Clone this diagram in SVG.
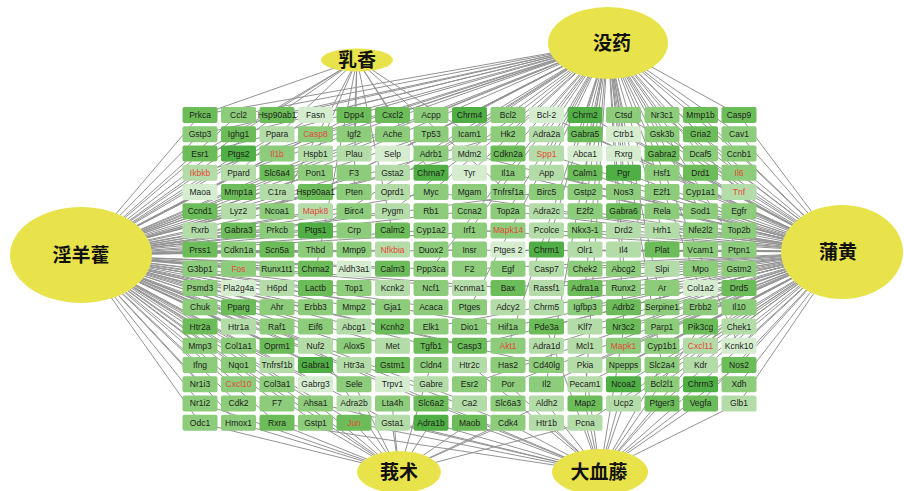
<svg xmlns="http://www.w3.org/2000/svg" width="904" height="491" viewBox="0 0 904 491">
<style>
.bg{fill:#ffffff}
.edge{fill:none;stroke:#939393;stroke-width:1}
.herb ellipse{fill:#e8e34a}
.herb text{font-family:"Noto Sans CJK SC","Noto Sans CJK TC",sans-serif;font-size:19px;font-weight:700;fill:#111;text-anchor:middle}
.n text{font-family:"Liberation Sans",Arial,sans-serif;font-size:8.5px;fill:#1e1e1e;text-anchor:middle}
.n.r text{fill:#e24a38}
.d rect{fill:#4fae44}
.m rect{fill:#6cbd59}
.l rect{fill:#8ccc7b}
.p rect{fill:#b4dca8}
.v rect{fill:#d5edce}
</style>
<rect class="bg" x="0" y="0" width="904" height="491"/>
<g id="edges">
<path id="e-yinyanghuo" class="edge" d="M81 255L200 115M81 255L200 134M81 255L200 154M81 255L200 173M81 255L200 192M81 255L200 211M81 255L200 230M81 255L200 250M81 255L200 269M81 255L200 288M81 255L200 307M81 255L200 327M81 255L200 346M81 255L200 365M81 255L200 384M81 255L200 403M81 255L200 423M81 255L238 115M81 255L238 154M81 255L238 173M81 255L238 211M81 255L238 230M81 255L238 269M81 255L238 288M81 255L238 327M81 255L238 365M81 255L238 403M81 255L238 423M81 255L277 134M81 255L277 192M81 255L277 230M81 255L277 250M81 255L277 307M81 255L277 346M81 255L277 384M81 255L277 423M81 255L316 115M81 255L316 154M81 255L316 211M81 255L316 250M81 255L316 269M81 255L316 327M81 255L316 365M81 255L316 403M81 255L354 173M81 255L354 230M81 255L354 288M81 255L354 346M81 255L354 423M81 255L392 134M81 255L392 250M81 255L392 307M81 255L392 384M81 255L431 192M81 255L431 269M81 255L431 346M81 255L470 154M81 255L470 288M81 255L470 403M81 255L508 230M81 255L508 327M81 255L238 134M81 255L238 192M81 255L238 250M81 255L238 307M81 255L238 346M81 255L238 384M81 255L277 115M81 255L277 154M81 255L277 173M81 255L277 211M81 255L277 269M81 255L277 288M81 255L277 327M81 255L277 365M81 255L277 403M81 255L316 134M81 255L316 173M81 255L316 192M81 255L316 230M81 255L316 288M81 255L316 307M81 255L316 346M81 255L316 384M81 255L316 423M81 255L354 115M81 255L354 154M81 255L354 211M81 255L354 250M81 255L354 307M81 255L354 384M81 255L392 173M81 255L392 211M81 255L392 269M81 255L392 346M81 255L392 423M81 255L431 134M81 255L431 230M81 255L431 307M81 255L431 403M81 255L470 211M81 255L470 250M81 255L470 346M81 255L508 134M81 255L508 288M81 255L508 423M81 255L546 192M81 255L546 365"/>
<path id="e-puhuang" class="edge" d="M842 252L739 115M842 252L739 134M842 252L739 154M842 252L739 173M842 252L739 192M842 252L739 211M842 252L739 230M842 252L739 250M842 252L739 269M842 252L739 288M842 252L739 307M842 252L739 327M842 252L739 346M842 252L739 365M842 252L739 384M842 252L739 403M842 252L700 115M842 252L700 134M842 252L700 173M842 252L700 192M842 252L700 230M842 252L700 250M842 252L700 288M842 252L700 307M842 252L700 346M842 252L700 384M842 252L700 403M842 252L662 115M842 252L662 154M842 252L662 211M842 252L662 250M842 252L662 269M842 252L662 327M842 252L662 365M842 252L662 403M842 252L624 134M842 252L624 173M842 252L624 230M842 252L624 288M842 252L624 346M842 252L624 384M842 252L585 115M842 252L585 192M842 252L585 250M842 252L585 307M842 252L585 365M842 252L585 423M842 252L546 154M842 252L546 211M842 252L546 269M842 252L546 327M842 252L508 173M842 252L508 288M842 252L508 384M842 252L470 230M842 252L470 346M842 252L431 250M842 252L700 154M842 252L700 211M842 252L700 269M842 252L700 327M842 252L700 365M842 252L662 134M842 252L662 173M842 252L662 192M842 252L662 230M842 252L662 288M842 252L662 307M842 252L662 346M842 252L662 384M842 252L624 115M842 252L624 154M842 252L624 192M842 252L624 211M842 252L624 250M842 252L624 269M842 252L624 307M842 252L624 327M842 252L624 365M842 252L624 403M842 252L585 134M842 252L585 173M842 252L585 211M842 252L585 230M842 252L585 269M842 252L585 288M842 252L585 327M842 252L585 384M842 252L546 115M842 252L546 173M842 252L546 230M842 252L546 288M842 252L546 346M842 252L546 384M842 252L508 211M842 252L508 250M842 252L508 327M842 252L470 154M842 252L470 269M842 252L470 384M842 252L431 192M842 252L431 327"/>
<path id="e-moyao" class="edge" d="M608 43L200 134M608 43L200 173M608 43L238 115M608 43L238 192M608 43L277 154M608 43L316 134M608 43L316 230M608 43L354 115M608 43L354 173M608 43L392 154M608 43L392 211M608 43L431 115M608 43L431 134M608 43L431 192M608 43L431 269M608 43L470 115M608 43L470 173M608 43L470 230M608 43L470 307M608 43L508 134M608 43L508 154M608 43L508 211M608 43L508 346M608 43L546 115M608 43L546 173M608 43L546 250M608 43L546 384M608 43L585 115M608 43L585 134M608 43L585 154M608 43L585 211M608 43L585 288M608 43L585 403M608 43L624 115M608 43L624 173M608 43L624 192M608 43L624 269M608 43L624 327M608 43L662 134M608 43L662 154M608 43L662 230M608 43L662 307M608 43L662 365M608 43L700 115M608 43L700 154M608 43L700 211M608 43L700 288M608 43L739 134M608 43L739 173M608 43L739 192M608 43L739 250M608 43L739 346M608 43L200 115M608 43L200 154M608 43L238 134M608 43L238 173M608 43L277 115M608 43L277 173M608 43L316 115M608 43L316 192M608 43L354 154M608 43L392 115M608 43L392 173M608 43L431 154M608 43L470 134M608 43L508 115M608 43L546 134M608 43L546 154M608 43L585 173M608 43L624 134M608 43L624 154M608 43L662 115M608 43L700 134M608 43L700 173M608 43L739 115M608 43L739 154"/>
<path id="e-ruxiang" class="edge" d="M357 60L200 115M357 60L200 154M357 60L238 134M357 60L238 173M357 60L277 115M357 60L277 211M357 60L316 154M357 60L316 269M357 60L354 134M357 60L354 192M357 60L392 115M357 60L392 230M357 60L431 173M357 60L470 134M357 60L508 192"/>
<path id="e-ezhu" class="edge" d="M399 472L200 403M399 472L200 423M399 472L238 365M399 472L238 423M399 472L277 384M399 472L277 423M399 472L316 346M399 472L316 403M399 472L316 423M399 472L354 384M399 472L354 423M399 472L392 403M399 472L392 423M399 472L431 365M399 472L431 423M399 472L470 423M399 472L508 423M399 472L546 403M399 472L585 423"/>
<path id="e-daxueteng" class="edge" d="M600 472L277 423M600 472L316 403M600 472L354 423M600 472L392 384M600 472L392 423M600 472L431 403M600 472L431 423M600 472L470 365M600 472L470 423M600 472L508 384M600 472L508 423M600 472L546 327M600 472L546 403M600 472L546 423M600 472L585 365M600 472L585 403M600 472L585 423M600 472L624 327M600 472L624 384M600 472L624 403M600 472L662 365M600 472L662 403M600 472L700 327M600 472L700 384M600 472L700 403M600 472L739 307M600 472L739 365M600 472L739 403"/>
</g>
<g id="h-ruxiang" class="herb"><ellipse cx="357" cy="60" rx="36" ry="11.5"/><text x="357" y="67">乳香</text></g>
<g id="h-moyao" class="herb"><ellipse cx="608" cy="43" rx="60" ry="36"/><text x="612" y="50">没药</text></g>
<g id="h-yinyanghuo" class="herb"><ellipse cx="81" cy="255" rx="71" ry="48"/><text x="81" y="262">淫羊藿</text></g>
<g id="h-puhuang" class="herb"><ellipse cx="842" cy="252" rx="61" ry="47"/><text x="838" y="259">蒲黄</text></g>
<g id="h-ezhu" class="herb"><ellipse cx="399" cy="472" rx="42" ry="21"/><text x="399" y="479">莪术</text></g>
<g id="h-daxueteng" class="herb"><ellipse cx="600" cy="472" rx="48" ry="23"/><text x="599" y="479">大血藤</text></g>
<g id="nodes">
<g id="n-Prkca" class="n m" transform="translate(200 115)"><rect x="-17.5" y="-8" width="35" height="16" rx="2"/><text y="3">Prkca</text></g>
<g id="n-Ccl2" class="n l" transform="translate(238.5 115)"><rect x="-17.5" y="-8" width="35" height="16" rx="2"/><text y="3">Ccl2</text></g>
<g id="n-Hsp90ab1" class="n m" transform="translate(277 115)"><rect x="-17.5" y="-8" width="35" height="16" rx="2"/><text y="3">Hsp90ab1</text></g>
<g id="n-Fasn" class="n v" transform="translate(315.5 115)"><rect x="-17.5" y="-8" width="35" height="16" rx="2"/><text y="3">Fasn</text></g>
<g id="n-Dpp4" class="n m" transform="translate(354 115)"><rect x="-17.5" y="-8" width="35" height="16" rx="2"/><text y="3">Dpp4</text></g>
<g id="n-Cxcl2" class="n m" transform="translate(392.5 115)"><rect x="-17.5" y="-8" width="35" height="16" rx="2"/><text y="3">Cxcl2</text></g>
<g id="n-Acpp" class="n l" transform="translate(431 115)"><rect x="-17.5" y="-8" width="35" height="16" rx="2"/><text y="3">Acpp</text></g>
<g id="n-Chrm4" class="n d" transform="translate(469.5 115)"><rect x="-17.5" y="-8" width="35" height="16" rx="2"/><text y="3">Chrm4</text></g>
<g id="n-Bcl2" class="n l" transform="translate(508 115)"><rect x="-17.5" y="-8" width="35" height="16" rx="2"/><text y="3">Bcl2</text></g>
<g id="n-Bcl-2" class="n v" transform="translate(546.5 115)"><rect x="-17.5" y="-8" width="35" height="16" rx="2"/><text y="3">Bcl-2</text></g>
<g id="n-Chrm2" class="n d" transform="translate(585 115)"><rect x="-17.5" y="-8" width="35" height="16" rx="2"/><text y="3">Chrm2</text></g>
<g id="n-Ctsd" class="n l" transform="translate(623.5 115)"><rect x="-17.5" y="-8" width="35" height="16" rx="2"/><text y="3">Ctsd</text></g>
<g id="n-Nr3c1" class="n l" transform="translate(662 115)"><rect x="-17.5" y="-8" width="35" height="16" rx="2"/><text y="3">Nr3c1</text></g>
<g id="n-Mmp1b" class="n m" transform="translate(700.5 115)"><rect x="-17.5" y="-8" width="35" height="16" rx="2"/><text y="3">Mmp1b</text></g>
<g id="n-Casp9" class="n m" transform="translate(739 115)"><rect x="-17.5" y="-8" width="35" height="16" rx="2"/><text y="3">Casp9</text></g>
<g id="n-Gstp3" class="n l" transform="translate(200 134.2)"><rect x="-17.5" y="-8" width="35" height="16" rx="2"/><text y="3">Gstp3</text></g>
<g id="n-Ighg1" class="n m" transform="translate(238.5 134.2)"><rect x="-17.5" y="-8" width="35" height="16" rx="2"/><text y="3">Ighg1</text></g>
<g id="n-Ppara" class="n p" transform="translate(277 134.2)"><rect x="-17.5" y="-8" width="35" height="16" rx="2"/><text y="3">Ppara</text></g>
<g id="n-Casp8" class="n l r" transform="translate(315.5 134.2)"><rect x="-17.5" y="-8" width="35" height="16" rx="2"/><text y="3">Casp8</text></g>
<g id="n-Igf2" class="n l" transform="translate(354 134.2)"><rect x="-17.5" y="-8" width="35" height="16" rx="2"/><text y="3">Igf2</text></g>
<g id="n-Ache" class="n l" transform="translate(392.5 134.2)"><rect x="-17.5" y="-8" width="35" height="16" rx="2"/><text y="3">Ache</text></g>
<g id="n-Tp53" class="n l" transform="translate(431 134.2)"><rect x="-17.5" y="-8" width="35" height="16" rx="2"/><text y="3">Tp53</text></g>
<g id="n-Icam1" class="n l" transform="translate(469.5 134.2)"><rect x="-17.5" y="-8" width="35" height="16" rx="2"/><text y="3">Icam1</text></g>
<g id="n-Hk2" class="n l" transform="translate(508 134.2)"><rect x="-17.5" y="-8" width="35" height="16" rx="2"/><text y="3">Hk2</text></g>
<g id="n-Adra2a" class="n p" transform="translate(546.5 134.2)"><rect x="-17.5" y="-8" width="35" height="16" rx="2"/><text y="3">Adra2a</text></g>
<g id="n-Gabra5" class="n m" transform="translate(585 134.2)"><rect x="-17.5" y="-8" width="35" height="16" rx="2"/><text y="3">Gabra5</text></g>
<g id="n-Ctrb1" class="n v" transform="translate(623.5 134.2)"><rect x="-17.5" y="-8" width="35" height="16" rx="2"/><text y="3">Ctrb1</text></g>
<g id="n-Gsk3b" class="n l" transform="translate(662 134.2)"><rect x="-17.5" y="-8" width="35" height="16" rx="2"/><text y="3">Gsk3b</text></g>
<g id="n-Gria2" class="n m" transform="translate(700.5 134.2)"><rect x="-17.5" y="-8" width="35" height="16" rx="2"/><text y="3">Gria2</text></g>
<g id="n-Cav1" class="n l" transform="translate(739 134.2)"><rect x="-17.5" y="-8" width="35" height="16" rx="2"/><text y="3">Cav1</text></g>
<g id="n-Esr1" class="n m" transform="translate(200 153.5)"><rect x="-17.5" y="-8" width="35" height="16" rx="2"/><text y="3">Esr1</text></g>
<g id="n-Ptgs2" class="n d" transform="translate(238.5 153.5)"><rect x="-17.5" y="-8" width="35" height="16" rx="2"/><text y="3">Ptgs2</text></g>
<g id="n-Il1b" class="n l r" transform="translate(277 153.5)"><rect x="-17.5" y="-8" width="35" height="16" rx="2"/><text y="3">Il1b</text></g>
<g id="n-Hspb1" class="n p" transform="translate(315.5 153.5)"><rect x="-17.5" y="-8" width="35" height="16" rx="2"/><text y="3">Hspb1</text></g>
<g id="n-Plau" class="n p" transform="translate(354 153.5)"><rect x="-17.5" y="-8" width="35" height="16" rx="2"/><text y="3">Plau</text></g>
<g id="n-Selp" class="n v" transform="translate(392.5 153.5)"><rect x="-17.5" y="-8" width="35" height="16" rx="2"/><text y="3">Selp</text></g>
<g id="n-Adrb1" class="n l" transform="translate(431 153.5)"><rect x="-17.5" y="-8" width="35" height="16" rx="2"/><text y="3">Adrb1</text></g>
<g id="n-Mdm2" class="n p" transform="translate(469.5 153.5)"><rect x="-17.5" y="-8" width="35" height="16" rx="2"/><text y="3">Mdm2</text></g>
<g id="n-Cdkn2a" class="n m" transform="translate(508 153.5)"><rect x="-17.5" y="-8" width="35" height="16" rx="2"/><text y="3">Cdkn2a</text></g>
<g id="n-Spp1" class="n p r" transform="translate(546.5 153.5)"><rect x="-17.5" y="-8" width="35" height="16" rx="2"/><text y="3">Spp1</text></g>
<g id="n-Abca1" class="n v" transform="translate(585 153.5)"><rect x="-17.5" y="-8" width="35" height="16" rx="2"/><text y="3">Abca1</text></g>
<g id="n-Rxrg" class="n v" transform="translate(623.5 153.5)"><rect x="-17.5" y="-8" width="35" height="16" rx="2"/><text y="3">Rxrg</text></g>
<g id="n-Gabra2" class="n m" transform="translate(662 153.5)"><rect x="-17.5" y="-8" width="35" height="16" rx="2"/><text y="3">Gabra2</text></g>
<g id="n-Dcaf5" class="n l" transform="translate(700.5 153.5)"><rect x="-17.5" y="-8" width="35" height="16" rx="2"/><text y="3">Dcaf5</text></g>
<g id="n-Ccnb1" class="n l" transform="translate(739 153.5)"><rect x="-17.5" y="-8" width="35" height="16" rx="2"/><text y="3">Ccnb1</text></g>
<g id="n-Ikbkb" class="n p r" transform="translate(200 172.7)"><rect x="-17.5" y="-8" width="35" height="16" rx="2"/><text y="3">Ikbkb</text></g>
<g id="n-Ppard" class="n p" transform="translate(238.5 172.7)"><rect x="-17.5" y="-8" width="35" height="16" rx="2"/><text y="3">Ppard</text></g>
<g id="n-Slc6a4" class="n m" transform="translate(277 172.7)"><rect x="-17.5" y="-8" width="35" height="16" rx="2"/><text y="3">Slc6a4</text></g>
<g id="n-Pon1" class="n l" transform="translate(315.5 172.7)"><rect x="-17.5" y="-8" width="35" height="16" rx="2"/><text y="3">Pon1</text></g>
<g id="n-F3" class="n l" transform="translate(354 172.7)"><rect x="-17.5" y="-8" width="35" height="16" rx="2"/><text y="3">F3</text></g>
<g id="n-Gsta2" class="n p" transform="translate(392.5 172.7)"><rect x="-17.5" y="-8" width="35" height="16" rx="2"/><text y="3">Gsta2</text></g>
<g id="n-Chrna7" class="n d" transform="translate(431 172.7)"><rect x="-17.5" y="-8" width="35" height="16" rx="2"/><text y="3">Chrna7</text></g>
<g id="n-Tyr" class="n v" transform="translate(469.5 172.7)"><rect x="-17.5" y="-8" width="35" height="16" rx="2"/><text y="3">Tyr</text></g>
<g id="n-Il1a" class="n l" transform="translate(508 172.7)"><rect x="-17.5" y="-8" width="35" height="16" rx="2"/><text y="3">Il1a</text></g>
<g id="n-App" class="n p" transform="translate(546.5 172.7)"><rect x="-17.5" y="-8" width="35" height="16" rx="2"/><text y="3">App</text></g>
<g id="n-Calm1" class="n m" transform="translate(585 172.7)"><rect x="-17.5" y="-8" width="35" height="16" rx="2"/><text y="3">Calm1</text></g>
<g id="n-Pgr" class="n d" transform="translate(623.5 172.7)"><rect x="-17.5" y="-8" width="35" height="16" rx="2"/><text y="3">Pgr</text></g>
<g id="n-Hsf1" class="n l" transform="translate(662 172.7)"><rect x="-17.5" y="-8" width="35" height="16" rx="2"/><text y="3">Hsf1</text></g>
<g id="n-Drd1" class="n m" transform="translate(700.5 172.7)"><rect x="-17.5" y="-8" width="35" height="16" rx="2"/><text y="3">Drd1</text></g>
<g id="n-Il6" class="n l r" transform="translate(739 172.7)"><rect x="-17.5" y="-8" width="35" height="16" rx="2"/><text y="3">Il6</text></g>
<g id="n-Maoa" class="n v" transform="translate(200 191.9)"><rect x="-17.5" y="-8" width="35" height="16" rx="2"/><text y="3">Maoa</text></g>
<g id="n-Mmp1a" class="n m" transform="translate(238.5 191.9)"><rect x="-17.5" y="-8" width="35" height="16" rx="2"/><text y="3">Mmp1a</text></g>
<g id="n-C1ra" class="n p" transform="translate(277 191.9)"><rect x="-17.5" y="-8" width="35" height="16" rx="2"/><text y="3">C1ra</text></g>
<g id="n-Hsp90aa1" class="n m" transform="translate(315.5 191.9)"><rect x="-17.5" y="-8" width="35" height="16" rx="2"/><text y="3">Hsp90aa1</text></g>
<g id="n-Pten" class="n l" transform="translate(354 191.9)"><rect x="-17.5" y="-8" width="35" height="16" rx="2"/><text y="3">Pten</text></g>
<g id="n-Oprd1" class="n p" transform="translate(392.5 191.9)"><rect x="-17.5" y="-8" width="35" height="16" rx="2"/><text y="3">Oprd1</text></g>
<g id="n-Myc" class="n l" transform="translate(431 191.9)"><rect x="-17.5" y="-8" width="35" height="16" rx="2"/><text y="3">Myc</text></g>
<g id="n-Mgam" class="n l" transform="translate(469.5 191.9)"><rect x="-17.5" y="-8" width="35" height="16" rx="2"/><text y="3">Mgam</text></g>
<g id="n-Tnfrsf1a" class="n l" transform="translate(508 191.9)"><rect x="-17.5" y="-8" width="35" height="16" rx="2"/><text y="3">Tnfrsf1a</text></g>
<g id="n-Birc5" class="n l" transform="translate(546.5 191.9)"><rect x="-17.5" y="-8" width="35" height="16" rx="2"/><text y="3">Birc5</text></g>
<g id="n-Gstp2" class="n l" transform="translate(585 191.9)"><rect x="-17.5" y="-8" width="35" height="16" rx="2"/><text y="3">Gstp2</text></g>
<g id="n-Nos3" class="n l" transform="translate(623.5 191.9)"><rect x="-17.5" y="-8" width="35" height="16" rx="2"/><text y="3">Nos3</text></g>
<g id="n-E2f1" class="n l" transform="translate(662 191.9)"><rect x="-17.5" y="-8" width="35" height="16" rx="2"/><text y="3">E2f1</text></g>
<g id="n-Cyp1a1" class="n l" transform="translate(700.5 191.9)"><rect x="-17.5" y="-8" width="35" height="16" rx="2"/><text y="3">Cyp1a1</text></g>
<g id="n-Tnf" class="n p r" transform="translate(739 191.9)"><rect x="-17.5" y="-8" width="35" height="16" rx="2"/><text y="3">Tnf</text></g>
<g id="n-Ccnd1" class="n m" transform="translate(200 211.2)"><rect x="-17.5" y="-8" width="35" height="16" rx="2"/><text y="3">Ccnd1</text></g>
<g id="n-Lyz2" class="n p" transform="translate(238.5 211.2)"><rect x="-17.5" y="-8" width="35" height="16" rx="2"/><text y="3">Lyz2</text></g>
<g id="n-Ncoa1" class="n l" transform="translate(277 211.2)"><rect x="-17.5" y="-8" width="35" height="16" rx="2"/><text y="3">Ncoa1</text></g>
<g id="n-Mapk8" class="n p r" transform="translate(315.5 211.2)"><rect x="-17.5" y="-8" width="35" height="16" rx="2"/><text y="3">Mapk8</text></g>
<g id="n-Birc4" class="n l" transform="translate(354 211.2)"><rect x="-17.5" y="-8" width="35" height="16" rx="2"/><text y="3">Birc4</text></g>
<g id="n-Pygm" class="n p" transform="translate(392.5 211.2)"><rect x="-17.5" y="-8" width="35" height="16" rx="2"/><text y="3">Pygm</text></g>
<g id="n-Rb1" class="n l" transform="translate(431 211.2)"><rect x="-17.5" y="-8" width="35" height="16" rx="2"/><text y="3">Rb1</text></g>
<g id="n-Ccna2" class="n l" transform="translate(469.5 211.2)"><rect x="-17.5" y="-8" width="35" height="16" rx="2"/><text y="3">Ccna2</text></g>
<g id="n-Top2a" class="n l" transform="translate(508 211.2)"><rect x="-17.5" y="-8" width="35" height="16" rx="2"/><text y="3">Top2a</text></g>
<g id="n-Adra2c" class="n p" transform="translate(546.5 211.2)"><rect x="-17.5" y="-8" width="35" height="16" rx="2"/><text y="3">Adra2c</text></g>
<g id="n-E2f2" class="n l" transform="translate(585 211.2)"><rect x="-17.5" y="-8" width="35" height="16" rx="2"/><text y="3">E2f2</text></g>
<g id="n-Gabra6" class="n m" transform="translate(623.5 211.2)"><rect x="-17.5" y="-8" width="35" height="16" rx="2"/><text y="3">Gabra6</text></g>
<g id="n-Rela" class="n l" transform="translate(662 211.2)"><rect x="-17.5" y="-8" width="35" height="16" rx="2"/><text y="3">Rela</text></g>
<g id="n-Sod1" class="n l" transform="translate(700.5 211.2)"><rect x="-17.5" y="-8" width="35" height="16" rx="2"/><text y="3">Sod1</text></g>
<g id="n-Egfr" class="n l" transform="translate(739 211.2)"><rect x="-17.5" y="-8" width="35" height="16" rx="2"/><text y="3">Egfr</text></g>
<g id="n-Rxrb" class="n p" transform="translate(200 230.4)"><rect x="-17.5" y="-8" width="35" height="16" rx="2"/><text y="3">Rxrb</text></g>
<g id="n-Gabra3" class="n m" transform="translate(238.5 230.4)"><rect x="-17.5" y="-8" width="35" height="16" rx="2"/><text y="3">Gabra3</text></g>
<g id="n-Prkcb" class="n l" transform="translate(277 230.4)"><rect x="-17.5" y="-8" width="35" height="16" rx="2"/><text y="3">Prkcb</text></g>
<g id="n-Ptgs1" class="n d" transform="translate(315.5 230.4)"><rect x="-17.5" y="-8" width="35" height="16" rx="2"/><text y="3">Ptgs1</text></g>
<g id="n-Crp" class="n l" transform="translate(354 230.4)"><rect x="-17.5" y="-8" width="35" height="16" rx="2"/><text y="3">Crp</text></g>
<g id="n-Calm2" class="n m" transform="translate(392.5 230.4)"><rect x="-17.5" y="-8" width="35" height="16" rx="2"/><text y="3">Calm2</text></g>
<g id="n-Cyp1a2" class="n l" transform="translate(431 230.4)"><rect x="-17.5" y="-8" width="35" height="16" rx="2"/><text y="3">Cyp1a2</text></g>
<g id="n-Irf1" class="n l" transform="translate(469.5 230.4)"><rect x="-17.5" y="-8" width="35" height="16" rx="2"/><text y="3">Irf1</text></g>
<g id="n-Mapk14" class="n l r" transform="translate(508 230.4)"><rect x="-17.5" y="-8" width="35" height="16" rx="2"/><text y="3">Mapk14</text></g>
<g id="n-Pcolce" class="n p" transform="translate(546.5 230.4)"><rect x="-17.5" y="-8" width="35" height="16" rx="2"/><text y="3">Pcolce</text></g>
<g id="n-Nkx3-1" class="n l" transform="translate(585 230.4)"><rect x="-17.5" y="-8" width="35" height="16" rx="2"/><text y="3">Nkx3-1</text></g>
<g id="n-Drd2" class="n p" transform="translate(623.5 230.4)"><rect x="-17.5" y="-8" width="35" height="16" rx="2"/><text y="3">Drd2</text></g>
<g id="n-Hrh1" class="n p" transform="translate(662 230.4)"><rect x="-17.5" y="-8" width="35" height="16" rx="2"/><text y="3">Hrh1</text></g>
<g id="n-Nfe2l2" class="n l" transform="translate(700.5 230.4)"><rect x="-17.5" y="-8" width="35" height="16" rx="2"/><text y="3">Nfe2l2</text></g>
<g id="n-Top2b" class="n l" transform="translate(739 230.4)"><rect x="-17.5" y="-8" width="35" height="16" rx="2"/><text y="3">Top2b</text></g>
<g id="n-Prss1" class="n m" transform="translate(200 249.6)"><rect x="-17.5" y="-8" width="35" height="16" rx="2"/><text y="3">Prss1</text></g>
<g id="n-Cdkn1a" class="n l" transform="translate(238.5 249.6)"><rect x="-17.5" y="-8" width="35" height="16" rx="2"/><text y="3">Cdkn1a</text></g>
<g id="n-Scn5a" class="n m" transform="translate(277 249.6)"><rect x="-17.5" y="-8" width="35" height="16" rx="2"/><text y="3">Scn5a</text></g>
<g id="n-Thbd" class="n l" transform="translate(315.5 249.6)"><rect x="-17.5" y="-8" width="35" height="16" rx="2"/><text y="3">Thbd</text></g>
<g id="n-Mmp9" class="n l" transform="translate(354 249.6)"><rect x="-17.5" y="-8" width="35" height="16" rx="2"/><text y="3">Mmp9</text></g>
<g id="n-Nfkbia" class="n p r" transform="translate(392.5 249.6)"><rect x="-17.5" y="-8" width="35" height="16" rx="2"/><text y="3">Nfkbia</text></g>
<g id="n-Duox2" class="n l" transform="translate(431 249.6)"><rect x="-17.5" y="-8" width="35" height="16" rx="2"/><text y="3">Duox2</text></g>
<g id="n-Insr" class="n l" transform="translate(469.5 249.6)"><rect x="-17.5" y="-8" width="35" height="16" rx="2"/><text y="3">Insr</text></g>
<g id="n-Ptges2" class="n v" transform="translate(508 249.6)"><rect x="-17.5" y="-8" width="35" height="16" rx="2"/><text y="3">Ptges 2</text></g>
<g id="n-Chrm1" class="n d" transform="translate(546.5 249.6)"><rect x="-17.5" y="-8" width="35" height="16" rx="2"/><text y="3">Chrm1</text></g>
<g id="n-Olr1" class="n p" transform="translate(585 249.6)"><rect x="-17.5" y="-8" width="35" height="16" rx="2"/><text y="3">Olr1</text></g>
<g id="n-Il4" class="n p" transform="translate(623.5 249.6)"><rect x="-17.5" y="-8" width="35" height="16" rx="2"/><text y="3">Il4</text></g>
<g id="n-Plat" class="n m" transform="translate(662 249.6)"><rect x="-17.5" y="-8" width="35" height="16" rx="2"/><text y="3">Plat</text></g>
<g id="n-Vcam1" class="n l" transform="translate(700.5 249.6)"><rect x="-17.5" y="-8" width="35" height="16" rx="2"/><text y="3">Vcam1</text></g>
<g id="n-Ptpn1" class="n l" transform="translate(739 249.6)"><rect x="-17.5" y="-8" width="35" height="16" rx="2"/><text y="3">Ptpn1</text></g>
<g id="n-G3bp1" class="n l" transform="translate(200 268.8)"><rect x="-17.5" y="-8" width="35" height="16" rx="2"/><text y="3">G3bp1</text></g>
<g id="n-Fos" class="n l r" transform="translate(238.5 268.8)"><rect x="-17.5" y="-8" width="35" height="16" rx="2"/><text y="3">Fos</text></g>
<g id="n-Runx1t1" class="n l" transform="translate(277 268.8)"><rect x="-17.5" y="-8" width="35" height="16" rx="2"/><text y="3">Runx1t1</text></g>
<g id="n-Chrna2" class="n m" transform="translate(315.5 268.8)"><rect x="-17.5" y="-8" width="35" height="16" rx="2"/><text y="3">Chrna2</text></g>
<g id="n-Aldh3a1" class="n v" transform="translate(354 268.8)"><rect x="-17.5" y="-8" width="35" height="16" rx="2"/><text y="3">Aldh3a1</text></g>
<g id="n-Calm3" class="n m" transform="translate(392.5 268.8)"><rect x="-17.5" y="-8" width="35" height="16" rx="2"/><text y="3">Calm3</text></g>
<g id="n-Ppp3ca" class="n l" transform="translate(431 268.8)"><rect x="-17.5" y="-8" width="35" height="16" rx="2"/><text y="3">Ppp3ca</text></g>
<g id="n-F2" class="n l" transform="translate(469.5 268.8)"><rect x="-17.5" y="-8" width="35" height="16" rx="2"/><text y="3">F2</text></g>
<g id="n-Egf" class="n l" transform="translate(508 268.8)"><rect x="-17.5" y="-8" width="35" height="16" rx="2"/><text y="3">Egf</text></g>
<g id="n-Casp7" class="n p" transform="translate(546.5 268.8)"><rect x="-17.5" y="-8" width="35" height="16" rx="2"/><text y="3">Casp7</text></g>
<g id="n-Chek2" class="n l" transform="translate(585 268.8)"><rect x="-17.5" y="-8" width="35" height="16" rx="2"/><text y="3">Chek2</text></g>
<g id="n-Abcg2" class="n l" transform="translate(623.5 268.8)"><rect x="-17.5" y="-8" width="35" height="16" rx="2"/><text y="3">Abcg2</text></g>
<g id="n-Slpi" class="n p" transform="translate(662 268.8)"><rect x="-17.5" y="-8" width="35" height="16" rx="2"/><text y="3">Slpi</text></g>
<g id="n-Mpo" class="n l" transform="translate(700.5 268.8)"><rect x="-17.5" y="-8" width="35" height="16" rx="2"/><text y="3">Mpo</text></g>
<g id="n-Gstm2" class="n l" transform="translate(739 268.8)"><rect x="-17.5" y="-8" width="35" height="16" rx="2"/><text y="3">Gstm2</text></g>
<g id="n-Psmd3" class="n l" transform="translate(200 288.1)"><rect x="-17.5" y="-8" width="35" height="16" rx="2"/><text y="3">Psmd3</text></g>
<g id="n-Pla2g4a" class="n v" transform="translate(238.5 288.1)"><rect x="-17.5" y="-8" width="35" height="16" rx="2"/><text y="3">Pla2g4a</text></g>
<g id="n-H6pd" class="n p" transform="translate(277 288.1)"><rect x="-17.5" y="-8" width="35" height="16" rx="2"/><text y="3">H6pd</text></g>
<g id="n-Lactb" class="n m" transform="translate(315.5 288.1)"><rect x="-17.5" y="-8" width="35" height="16" rx="2"/><text y="3">Lactb</text></g>
<g id="n-Top1" class="n l" transform="translate(354 288.1)"><rect x="-17.5" y="-8" width="35" height="16" rx="2"/><text y="3">Top1</text></g>
<g id="n-Kcnk2" class="n p" transform="translate(392.5 288.1)"><rect x="-17.5" y="-8" width="35" height="16" rx="2"/><text y="3">Kcnk2</text></g>
<g id="n-Ncf1" class="n l" transform="translate(431 288.1)"><rect x="-17.5" y="-8" width="35" height="16" rx="2"/><text y="3">Ncf1</text></g>
<g id="n-Kcnma1" class="n p" transform="translate(469.5 288.1)"><rect x="-17.5" y="-8" width="35" height="16" rx="2"/><text y="3">Kcnma1</text></g>
<g id="n-Bax" class="n m" transform="translate(508 288.1)"><rect x="-17.5" y="-8" width="35" height="16" rx="2"/><text y="3">Bax</text></g>
<g id="n-Rassf1" class="n p" transform="translate(546.5 288.1)"><rect x="-17.5" y="-8" width="35" height="16" rx="2"/><text y="3">Rassf1</text></g>
<g id="n-Adra1a" class="n m" transform="translate(585 288.1)"><rect x="-17.5" y="-8" width="35" height="16" rx="2"/><text y="3">Adra1a</text></g>
<g id="n-Runx2" class="n l" transform="translate(623.5 288.1)"><rect x="-17.5" y="-8" width="35" height="16" rx="2"/><text y="3">Runx2</text></g>
<g id="n-Ar" class="n l" transform="translate(662 288.1)"><rect x="-17.5" y="-8" width="35" height="16" rx="2"/><text y="3">Ar</text></g>
<g id="n-Col1a2" class="n v" transform="translate(700.5 288.1)"><rect x="-17.5" y="-8" width="35" height="16" rx="2"/><text y="3">Col1a2</text></g>
<g id="n-Drd5" class="n m" transform="translate(739 288.1)"><rect x="-17.5" y="-8" width="35" height="16" rx="2"/><text y="3">Drd5</text></g>
<g id="n-Chuk" class="n l" transform="translate(200 307.3)"><rect x="-17.5" y="-8" width="35" height="16" rx="2"/><text y="3">Chuk</text></g>
<g id="n-Pparg" class="n m" transform="translate(238.5 307.3)"><rect x="-17.5" y="-8" width="35" height="16" rx="2"/><text y="3">Pparg</text></g>
<g id="n-Ahr" class="n l" transform="translate(277 307.3)"><rect x="-17.5" y="-8" width="35" height="16" rx="2"/><text y="3">Ahr</text></g>
<g id="n-Erbb3" class="n l" transform="translate(315.5 307.3)"><rect x="-17.5" y="-8" width="35" height="16" rx="2"/><text y="3">Erbb3</text></g>
<g id="n-Mmp2" class="n l" transform="translate(354 307.3)"><rect x="-17.5" y="-8" width="35" height="16" rx="2"/><text y="3">Mmp2</text></g>
<g id="n-Gja1" class="n l" transform="translate(392.5 307.3)"><rect x="-17.5" y="-8" width="35" height="16" rx="2"/><text y="3">Gja1</text></g>
<g id="n-Acaca" class="n l" transform="translate(431 307.3)"><rect x="-17.5" y="-8" width="35" height="16" rx="2"/><text y="3">Acaca</text></g>
<g id="n-Ptges" class="n l" transform="translate(469.5 307.3)"><rect x="-17.5" y="-8" width="35" height="16" rx="2"/><text y="3">Ptges</text></g>
<g id="n-Adcy2" class="n p" transform="translate(508 307.3)"><rect x="-17.5" y="-8" width="35" height="16" rx="2"/><text y="3">Adcy2</text></g>
<g id="n-Chrm5" class="n p" transform="translate(546.5 307.3)"><rect x="-17.5" y="-8" width="35" height="16" rx="2"/><text y="3">Chrm5</text></g>
<g id="n-Igfbp3" class="n l" transform="translate(585 307.3)"><rect x="-17.5" y="-8" width="35" height="16" rx="2"/><text y="3">Igfbp3</text></g>
<g id="n-Adrb2" class="n m" transform="translate(623.5 307.3)"><rect x="-17.5" y="-8" width="35" height="16" rx="2"/><text y="3">Adrb2</text></g>
<g id="n-Serpine1" class="n l" transform="translate(662 307.3)"><rect x="-17.5" y="-8" width="35" height="16" rx="2"/><text y="3">Serpine1</text></g>
<g id="n-Erbb2" class="n l" transform="translate(700.5 307.3)"><rect x="-17.5" y="-8" width="35" height="16" rx="2"/><text y="3">Erbb2</text></g>
<g id="n-Il10" class="n l" transform="translate(739 307.3)"><rect x="-17.5" y="-8" width="35" height="16" rx="2"/><text y="3">Il10</text></g>
<g id="n-Htr2a" class="n m" transform="translate(200 326.5)"><rect x="-17.5" y="-8" width="35" height="16" rx="2"/><text y="3">Htr2a</text></g>
<g id="n-Htr1a" class="n p" transform="translate(238.5 326.5)"><rect x="-17.5" y="-8" width="35" height="16" rx="2"/><text y="3">Htr1a</text></g>
<g id="n-Raf1" class="n l" transform="translate(277 326.5)"><rect x="-17.5" y="-8" width="35" height="16" rx="2"/><text y="3">Raf1</text></g>
<g id="n-Eif6" class="n l" transform="translate(315.5 326.5)"><rect x="-17.5" y="-8" width="35" height="16" rx="2"/><text y="3">Eif6</text></g>
<g id="n-Abcg1" class="n p" transform="translate(354 326.5)"><rect x="-17.5" y="-8" width="35" height="16" rx="2"/><text y="3">Abcg1</text></g>
<g id="n-Kcnh2" class="n m" transform="translate(392.5 326.5)"><rect x="-17.5" y="-8" width="35" height="16" rx="2"/><text y="3">Kcnh2</text></g>
<g id="n-Elk1" class="n l" transform="translate(431 326.5)"><rect x="-17.5" y="-8" width="35" height="16" rx="2"/><text y="3">Elk1</text></g>
<g id="n-Dio1" class="n l" transform="translate(469.5 326.5)"><rect x="-17.5" y="-8" width="35" height="16" rx="2"/><text y="3">Dio1</text></g>
<g id="n-Hif1a" class="n l" transform="translate(508 326.5)"><rect x="-17.5" y="-8" width="35" height="16" rx="2"/><text y="3">Hif1a</text></g>
<g id="n-Pde3a" class="n m" transform="translate(546.5 326.5)"><rect x="-17.5" y="-8" width="35" height="16" rx="2"/><text y="3">Pde3a</text></g>
<g id="n-Klf7" class="n p" transform="translate(585 326.5)"><rect x="-17.5" y="-8" width="35" height="16" rx="2"/><text y="3">Klf7</text></g>
<g id="n-Nr3c2" class="n m" transform="translate(623.5 326.5)"><rect x="-17.5" y="-8" width="35" height="16" rx="2"/><text y="3">Nr3c2</text></g>
<g id="n-Parp1" class="n l" transform="translate(662 326.5)"><rect x="-17.5" y="-8" width="35" height="16" rx="2"/><text y="3">Parp1</text></g>
<g id="n-Pik3cg" class="n m" transform="translate(700.5 326.5)"><rect x="-17.5" y="-8" width="35" height="16" rx="2"/><text y="3">Pik3cg</text></g>
<g id="n-Chek1" class="n p" transform="translate(739 326.5)"><rect x="-17.5" y="-8" width="35" height="16" rx="2"/><text y="3">Chek1</text></g>
<g id="n-Mmp3" class="n l" transform="translate(200 345.8)"><rect x="-17.5" y="-8" width="35" height="16" rx="2"/><text y="3">Mmp3</text></g>
<g id="n-Col1a1" class="n l" transform="translate(238.5 345.8)"><rect x="-17.5" y="-8" width="35" height="16" rx="2"/><text y="3">Col1a1</text></g>
<g id="n-Oprm1" class="n m" transform="translate(277 345.8)"><rect x="-17.5" y="-8" width="35" height="16" rx="2"/><text y="3">Oprm1</text></g>
<g id="n-Nuf2" class="n p" transform="translate(315.5 345.8)"><rect x="-17.5" y="-8" width="35" height="16" rx="2"/><text y="3">Nuf2</text></g>
<g id="n-Alox5" class="n l" transform="translate(354 345.8)"><rect x="-17.5" y="-8" width="35" height="16" rx="2"/><text y="3">Alox5</text></g>
<g id="n-Met" class="n p" transform="translate(392.5 345.8)"><rect x="-17.5" y="-8" width="35" height="16" rx="2"/><text y="3">Met</text></g>
<g id="n-Tgfb1" class="n m" transform="translate(431 345.8)"><rect x="-17.5" y="-8" width="35" height="16" rx="2"/><text y="3">Tgfb1</text></g>
<g id="n-Casp3" class="n m" transform="translate(469.5 345.8)"><rect x="-17.5" y="-8" width="35" height="16" rx="2"/><text y="3">Casp3</text></g>
<g id="n-Akt1" class="n l r" transform="translate(508 345.8)"><rect x="-17.5" y="-8" width="35" height="16" rx="2"/><text y="3">Akt1</text></g>
<g id="n-Adra1d" class="n p" transform="translate(546.5 345.8)"><rect x="-17.5" y="-8" width="35" height="16" rx="2"/><text y="3">Adra1d</text></g>
<g id="n-Mcl1" class="n p" transform="translate(585 345.8)"><rect x="-17.5" y="-8" width="35" height="16" rx="2"/><text y="3">Mcl1</text></g>
<g id="n-Mapk1" class="n l r" transform="translate(623.5 345.8)"><rect x="-17.5" y="-8" width="35" height="16" rx="2"/><text y="3">Mapk1</text></g>
<g id="n-Cyp1b1" class="n l" transform="translate(662 345.8)"><rect x="-17.5" y="-8" width="35" height="16" rx="2"/><text y="3">Cyp1b1</text></g>
<g id="n-Cxcl11" class="n p r" transform="translate(700.5 345.8)"><rect x="-17.5" y="-8" width="35" height="16" rx="2"/><text y="3">Cxcl11</text></g>
<g id="n-Kcnk10" class="n v" transform="translate(739 345.8)"><rect x="-17.5" y="-8" width="35" height="16" rx="2"/><text y="3">Kcnk10</text></g>
<g id="n-Ifng" class="n l" transform="translate(200 365)"><rect x="-17.5" y="-8" width="35" height="16" rx="2"/><text y="3">Ifng</text></g>
<g id="n-Nqo1" class="n l" transform="translate(238.5 365)"><rect x="-17.5" y="-8" width="35" height="16" rx="2"/><text y="3">Nqo1</text></g>
<g id="n-Tnfrsf1b" class="n p" transform="translate(277 365)"><rect x="-17.5" y="-8" width="35" height="16" rx="2"/><text y="3">Tnfrsf1b</text></g>
<g id="n-Gabra1" class="n d" transform="translate(315.5 365)"><rect x="-17.5" y="-8" width="35" height="16" rx="2"/><text y="3">Gabra1</text></g>
<g id="n-Htr3a" class="n p" transform="translate(354 365)"><rect x="-17.5" y="-8" width="35" height="16" rx="2"/><text y="3">Htr3a</text></g>
<g id="n-Gstm1" class="n m" transform="translate(392.5 365)"><rect x="-17.5" y="-8" width="35" height="16" rx="2"/><text y="3">Gstm1</text></g>
<g id="n-Cldn4" class="n l" transform="translate(431 365)"><rect x="-17.5" y="-8" width="35" height="16" rx="2"/><text y="3">Cldn4</text></g>
<g id="n-Htr2c" class="n p" transform="translate(469.5 365)"><rect x="-17.5" y="-8" width="35" height="16" rx="2"/><text y="3">Htr2c</text></g>
<g id="n-Has2" class="n l" transform="translate(508 365)"><rect x="-17.5" y="-8" width="35" height="16" rx="2"/><text y="3">Has2</text></g>
<g id="n-Cd40lg" class="n l" transform="translate(546.5 365)"><rect x="-17.5" y="-8" width="35" height="16" rx="2"/><text y="3">Cd40lg</text></g>
<g id="n-Pkia" class="n p" transform="translate(585 365)"><rect x="-17.5" y="-8" width="35" height="16" rx="2"/><text y="3">Pkia</text></g>
<g id="n-Npepps" class="n l" transform="translate(623.5 365)"><rect x="-17.5" y="-8" width="35" height="16" rx="2"/><text y="3">Npepps</text></g>
<g id="n-Slc2a4" class="n l" transform="translate(662 365)"><rect x="-17.5" y="-8" width="35" height="16" rx="2"/><text y="3">Slc2a4</text></g>
<g id="n-Kdr" class="n p" transform="translate(700.5 365)"><rect x="-17.5" y="-8" width="35" height="16" rx="2"/><text y="3">Kdr</text></g>
<g id="n-Nos2" class="n m" transform="translate(739 365)"><rect x="-17.5" y="-8" width="35" height="16" rx="2"/><text y="3">Nos2</text></g>
<g id="n-Nr1i3" class="n l" transform="translate(200 384.2)"><rect x="-17.5" y="-8" width="35" height="16" rx="2"/><text y="3">Nr1i3</text></g>
<g id="n-Cxcl10" class="n l r" transform="translate(238.5 384.2)"><rect x="-17.5" y="-8" width="35" height="16" rx="2"/><text y="3">Cxcl10</text></g>
<g id="n-Col3a1" class="n l" transform="translate(277 384.2)"><rect x="-17.5" y="-8" width="35" height="16" rx="2"/><text y="3">Col3a1</text></g>
<g id="n-Gabrg3" class="n v" transform="translate(315.5 384.2)"><rect x="-17.5" y="-8" width="35" height="16" rx="2"/><text y="3">Gabrg3</text></g>
<g id="n-Sele" class="n l" transform="translate(354 384.2)"><rect x="-17.5" y="-8" width="35" height="16" rx="2"/><text y="3">Sele</text></g>
<g id="n-Trpv1" class="n v" transform="translate(392.5 384.2)"><rect x="-17.5" y="-8" width="35" height="16" rx="2"/><text y="3">Trpv1</text></g>
<g id="n-Gabre" class="n p" transform="translate(431 384.2)"><rect x="-17.5" y="-8" width="35" height="16" rx="2"/><text y="3">Gabre</text></g>
<g id="n-Esr2" class="n l" transform="translate(469.5 384.2)"><rect x="-17.5" y="-8" width="35" height="16" rx="2"/><text y="3">Esr2</text></g>
<g id="n-Por" class="n l" transform="translate(508 384.2)"><rect x="-17.5" y="-8" width="35" height="16" rx="2"/><text y="3">Por</text></g>
<g id="n-Il2" class="n l" transform="translate(546.5 384.2)"><rect x="-17.5" y="-8" width="35" height="16" rx="2"/><text y="3">Il2</text></g>
<g id="n-Pecam1" class="n p" transform="translate(585 384.2)"><rect x="-17.5" y="-8" width="35" height="16" rx="2"/><text y="3">Pecam1</text></g>
<g id="n-Ncoa2" class="n d" transform="translate(623.5 384.2)"><rect x="-17.5" y="-8" width="35" height="16" rx="2"/><text y="3">Ncoa2</text></g>
<g id="n-Bcl2l1" class="n l" transform="translate(662 384.2)"><rect x="-17.5" y="-8" width="35" height="16" rx="2"/><text y="3">Bcl2l1</text></g>
<g id="n-Chrm3" class="n d" transform="translate(700.5 384.2)"><rect x="-17.5" y="-8" width="35" height="16" rx="2"/><text y="3">Chrm3</text></g>
<g id="n-Xdh" class="n l" transform="translate(739 384.2)"><rect x="-17.5" y="-8" width="35" height="16" rx="2"/><text y="3">Xdh</text></g>
<g id="n-Nr1i2" class="n l" transform="translate(200 403.4)"><rect x="-17.5" y="-8" width="35" height="16" rx="2"/><text y="3">Nr1i2</text></g>
<g id="n-Cdk2" class="n l" transform="translate(238.5 403.4)"><rect x="-17.5" y="-8" width="35" height="16" rx="2"/><text y="3">Cdk2</text></g>
<g id="n-F7" class="n l" transform="translate(277 403.4)"><rect x="-17.5" y="-8" width="35" height="16" rx="2"/><text y="3">F7</text></g>
<g id="n-Ahsa1" class="n l" transform="translate(315.5 403.4)"><rect x="-17.5" y="-8" width="35" height="16" rx="2"/><text y="3">Ahsa1</text></g>
<g id="n-Adra2b" class="n p" transform="translate(354 403.4)"><rect x="-17.5" y="-8" width="35" height="16" rx="2"/><text y="3">Adra2b</text></g>
<g id="n-Lta4h" class="n l" transform="translate(392.5 403.4)"><rect x="-17.5" y="-8" width="35" height="16" rx="2"/><text y="3">Lta4h</text></g>
<g id="n-Slc6a2" class="n m" transform="translate(431 403.4)"><rect x="-17.5" y="-8" width="35" height="16" rx="2"/><text y="3">Slc6a2</text></g>
<g id="n-Ca2" class="n p" transform="translate(469.5 403.4)"><rect x="-17.5" y="-8" width="35" height="16" rx="2"/><text y="3">Ca2</text></g>
<g id="n-Slc6a3" class="n l" transform="translate(508 403.4)"><rect x="-17.5" y="-8" width="35" height="16" rx="2"/><text y="3">Slc6a3</text></g>
<g id="n-Aldh2" class="n p" transform="translate(546.5 403.4)"><rect x="-17.5" y="-8" width="35" height="16" rx="2"/><text y="3">Aldh2</text></g>
<g id="n-Map2" class="n m" transform="translate(585 403.4)"><rect x="-17.5" y="-8" width="35" height="16" rx="2"/><text y="3">Map2</text></g>
<g id="n-Ucp2" class="n p" transform="translate(623.5 403.4)"><rect x="-17.5" y="-8" width="35" height="16" rx="2"/><text y="3">Ucp2</text></g>
<g id="n-Ptger3" class="n m" transform="translate(662 403.4)"><rect x="-17.5" y="-8" width="35" height="16" rx="2"/><text y="3">Ptger3</text></g>
<g id="n-Vegfa" class="n m" transform="translate(700.5 403.4)"><rect x="-17.5" y="-8" width="35" height="16" rx="2"/><text y="3">Vegfa</text></g>
<g id="n-Glb1" class="n p" transform="translate(739 403.4)"><rect x="-17.5" y="-8" width="35" height="16" rx="2"/><text y="3">Glb1</text></g>
<g id="n-Odc1" class="n l" transform="translate(200 422.7)"><rect x="-17.5" y="-8" width="35" height="16" rx="2"/><text y="3">Odc1</text></g>
<g id="n-Hmox1" class="n l" transform="translate(238.5 422.7)"><rect x="-17.5" y="-8" width="35" height="16" rx="2"/><text y="3">Hmox1</text></g>
<g id="n-Rxra" class="n m" transform="translate(277 422.7)"><rect x="-17.5" y="-8" width="35" height="16" rx="2"/><text y="3">Rxra</text></g>
<g id="n-Gstp1" class="n l" transform="translate(315.5 422.7)"><rect x="-17.5" y="-8" width="35" height="16" rx="2"/><text y="3">Gstp1</text></g>
<g id="n-Jun" class="n m r" transform="translate(354 422.7)"><rect x="-17.5" y="-8" width="35" height="16" rx="2"/><text y="3">Jun</text></g>
<g id="n-Gsta1" class="n p" transform="translate(392.5 422.7)"><rect x="-17.5" y="-8" width="35" height="16" rx="2"/><text y="3">Gsta1</text></g>
<g id="n-Adra1b" class="n d" transform="translate(431 422.7)"><rect x="-17.5" y="-8" width="35" height="16" rx="2"/><text y="3">Adra1b</text></g>
<g id="n-Maob" class="n m" transform="translate(469.5 422.7)"><rect x="-17.5" y="-8" width="35" height="16" rx="2"/><text y="3">Maob</text></g>
<g id="n-Cdk4" class="n l" transform="translate(508 422.7)"><rect x="-17.5" y="-8" width="35" height="16" rx="2"/><text y="3">Cdk4</text></g>
<g id="n-Htr1b" class="n p" transform="translate(546.5 422.7)"><rect x="-17.5" y="-8" width="35" height="16" rx="2"/><text y="3">Htr1b</text></g>
<g id="n-Pcna" class="n p" transform="translate(585 422.7)"><rect x="-17.5" y="-8" width="35" height="16" rx="2"/><text y="3">Pcna</text></g>
</g>
</svg>
